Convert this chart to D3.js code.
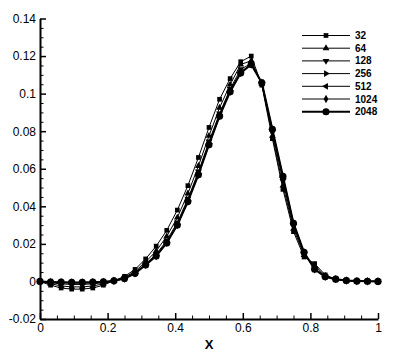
<!DOCTYPE html>
<html>
<head>
<meta charset="utf-8">
<script src="https://cdn.jsdelivr.net/npm/d3@7"></script>
<style>
  body { margin: 0; background: #fff; }
  svg { display: block; font-family: "Liberation Sans", Arial, sans-serif; }
  .axis path, .axis line { stroke: #000; }
  .axis text { font-size: 12px; fill: #000; }
  .legend-label { font-size: 10px; font-weight: bold; }
</style>
</head>
<body>
<div id="chart"></div>
<script>
// sample positions
const xValues = [0, 0.03125, 0.0625, 0.09375, 0.125, 0.15625, 0.1875, 0.21875, 0.25, 0.28125,
  0.3125, 0.34375, 0.375, 0.40625, 0.4375, 0.46875, 0.5, 0.53125, 0.5625, 0.59375,
  0.625, 0.65625, 0.6875, 0.71875, 0.75, 0.78125, 0.8125, 0.84375, 0.875, 0.90625,
  0.9375, 0.96875, 1];

// series values
const s32 = [0, -0.0020, -0.0035, -0.0041, -0.0041, -0.0035, -0.0020, 0.0004, 0.0027, 0.0064,
  0.0120, 0.0188, 0.0272, 0.0380, 0.0510, 0.0660, 0.0820, 0.0970, 0.1080, 0.1170,
  0.1200, 0.1045, 0.0760, 0.0490, 0.0265, 0.0130, 0.0095, 0.0035, 0.0012, 0.0004,
  0.0001, 0, 0];
const s64 = [0, -0.0012, -0.0024, -0.0029, -0.0029, -0.0024, -0.0013, 0.0004, 0.0022, 0.0054,
  0.0104, 0.0162, 0.0240, 0.0340, 0.0468, 0.0615, 0.0775, 0.0925, 0.1048, 0.1155,
  0.1175, 0.1052, 0.0775, 0.0510, 0.0280, 0.0140, 0.0085, 0.0030, 0.0012, 0.0004,
  0.0001, 0, 0];
const s128 = [0, -0.0007, -0.0013, -0.0016, -0.0016, -0.0013, -0.0007, 0.0003, 0.0018, 0.0047,
  0.0094, 0.0145, 0.0218, 0.0314, 0.0440, 0.0585, 0.0745, 0.0895, 0.1025, 0.1130,
  0.1160, 0.1056, 0.0795, 0.0535, 0.0295, 0.0150, 0.0070, 0.0027, 0.0012, 0.0005,
  0.0002, 0.0001, 0];
const s256 = [0, -0.0004, -0.0007, -0.0009, -0.0009, -0.0007, -0.0004, 0.0003, 0.0016, 0.0044,
  0.0090, 0.0139, 0.0209, 0.0304, 0.0430, 0.0574, 0.0734, 0.0886, 0.1016, 0.1115,
  0.1157, 0.1058, 0.0805, 0.0550, 0.0305, 0.0153, 0.0067, 0.0026, 0.0012, 0.0005,
  0.0002, 0.0001, 0];
const s512 = [0, -0.0003, -0.0005, -0.0006, -0.0006, -0.0005, -0.0003, 0.0003, 0.0015, 0.0043,
  0.0089, 0.0136, 0.0206, 0.0301, 0.0427, 0.0570, 0.0730, 0.0882, 0.1012, 0.1112,
  0.1156, 0.1058, 0.0808, 0.0555, 0.0308, 0.0154, 0.0066, 0.0026, 0.0012, 0.0005,
  0.0002, 0.0001, 0];
const s1024 = [0, -0.0003, -0.0004, -0.0005, -0.0005, -0.0004, -0.0002, 0.0003, 0.0015, 0.0043,
  0.0088, 0.0135, 0.0205, 0.0300, 0.0425, 0.0568, 0.0728, 0.0880, 0.1010, 0.1110,
  0.1155, 0.1058, 0.0810, 0.0558, 0.0310, 0.0155, 0.0065, 0.0025, 0.0012, 0.0005,
  0.0002, 0.0001, 0];
const s2048 = [0, -0.0003, -0.0004, -0.0005, -0.0005, -0.0004, -0.0002, 0.0003, 0.0015, 0.0043,
  0.0088, 0.0135, 0.0205, 0.0300, 0.0425, 0.0568, 0.0728, 0.0880, 0.1010, 0.1110,
  0.1155, 0.1058, 0.0810, 0.0560, 0.0310, 0.0155, 0.0065, 0.0025, 0.0012, 0.0005,
  0.0002, 0.0001, 0];

const seriesNames = ["32", "64", "128", "256", "512", "1024", "2048"];
const seriesValues = [s32, s64, s128, s256, s512, s1024, s2048];

// ticks
const xTicks = [0, 0.2, 0.4, 0.6, 0.8, 1];
const xMinorTicks = [0.05, 0.1, 0.15, 0.25, 0.3, 0.35, 0.45, 0.5, 0.55, 0.65, 0.7, 0.75, 0.85, 0.9, 0.95];
const yTicks = [-0.02, 0, 0.02, 0.04, 0.06, 0.08, 0.1, 0.12, 0.14];
const yMinorTicks = [-0.015, -0.01, -0.005, 0.005, 0.01, 0.015, 0.025, 0.03, 0.035, 0.045, 0.05, 0.055,
  0.065, 0.07, 0.075, 0.085, 0.09, 0.095, 0.105, 0.11, 0.115, 0.125, 0.13, 0.135];

const outerWidth = 399;
const outerHeight = 355;

// marker shapes per series
const markerStyles = [
  { type: d3.symbolSquare, size: 22, rotate: 0 },
  { type: d3.symbolTriangle, size: 20, rotate: 0 },
  { type: d3.symbolTriangle, size: 20, rotate: 180 },
  { type: d3.symbolTriangle, size: 20, rotate: 90 },
  { type: d3.symbolTriangle, size: 20, rotate: -90 },
  { type: d3.symbolDiamond, size: 20, rotate: 0 },
  { type: d3.symbolCircle, size: 40, rotate: 0 },
];

function fmt(v) {
  return String(+v.toFixed(2));
}

function drawChart() {
  const svg = d3.select("#chart")
    .append("svg")
    .attr("width", outerWidth)
    .attr("height", outerHeight);

  const xScale = d3.scaleLinear().domain([0, 1]).range([40, 378]);
  const yScale = d3.scaleLinear().domain([-0.02, 0.14]).range([319, 18.5]);

  // curves
  const line = d3.line()
    .x((d) => xScale(d[0]))
    .y((d) => yScale(d[1]));

  seriesValues.forEach((values, i) => {
    const pts = xValues.map((x, j) => [x, values[j]]);
    const style = markerStyles[i];
    const g = svg.append("g");

    g.append("path")
      .datum(pts)
      .attr("fill", "none")
      .attr("stroke", "#000")
      .attr("stroke-width", i === 6 ? 2 : 1)
      .attr("d", line);

    g.selectAll("path.marker")
      .data(pts)
      .enter()
      .append("path")
      .attr("class", "marker")
      .attr("d", d3.symbol().type(style.type).size(style.size))
      .attr("transform", (d) => `translate(${xScale(d[0])},${yScale(d[1])}) rotate(${style.rotate})`)
      .attr("fill", "#000");
  });

  // axes
  svg.append("g")
    .attr("class", "axis")
    .attr("transform", "translate(40,0)")
    .call(d3.axisLeft(yScale).tickValues(yMinorTicks).tickFormat("").tickSizeInner(-3.5).tickSizeOuter(0))
    .call((g) => g.select(".domain").remove());

  svg.append("g")
    .attr("class", "axis")
    .attr("transform", "translate(40,0)")
    .call(d3.axisLeft(yScale).tickValues(yTicks).tickFormat(fmt).tickSizeInner(-6).tickSizeOuter(0).tickPadding(4))
    .call((g) => g.select(".domain").attr("stroke-width", 2))
    .call((g) => g.selectAll(".tick line").attr("stroke-width", 1.5));

  svg.append("g")
    .attr("class", "axis")
    .attr("transform", "translate(0,319)")
    .call(d3.axisBottom(xScale).tickValues(xMinorTicks).tickFormat("").tickSizeInner(-3.5).tickSizeOuter(0))
    .call((g) => g.select(".domain").remove());

  svg.append("g")
    .attr("class", "axis")
    .attr("transform", "translate(0,319)")
    .call(d3.axisBottom(xScale).tickValues(xTicks).tickFormat(fmt).tickSizeInner(-6).tickSizeOuter(0).tickPadding(4))
    .call((g) => g.select(".domain").attr("stroke-width", 2))
    .call((g) => g.selectAll(".tick line").attr("stroke-width", 1.5))
    .call((g) => g.selectAll(".tick text").attr("font-size", "13px"));

  svg.selectAll(".axis .tick text").attr("font-size", "12.5px");

  // axis label
  svg.append("text")
    .attr("x", 209)
    .attr("y", 349)
    .attr("text-anchor", "middle")
    .attr("font-size", "13px")
    .attr("font-weight", "bold")
    .text("X");

  // legend
  const legend = svg.append("g").attr("transform", "translate(302,35.5)");
  seriesNames.forEach((name, i) => {
    const style = markerStyles[i];
    const row = legend.append("g").attr("transform", `translate(0,${i * 12.7})`);
    row.append("line")
      .attr("x1", 0).attr("x2", 48)
      .attr("stroke", "#000")
      .attr("stroke-width", i === 6 ? 2 : 1);
    row.append("path")
      .attr("d", d3.symbol().type(style.type).size(style.size))
      .attr("transform", `translate(24,0) rotate(${style.rotate})`);
    row.append("text")
      .attr("class", "legend-label")
      .attr("x", 53)
      .attr("y", 3.5)
      .text(name);
  });
}

drawChart();
</script>
</body>
</html>
